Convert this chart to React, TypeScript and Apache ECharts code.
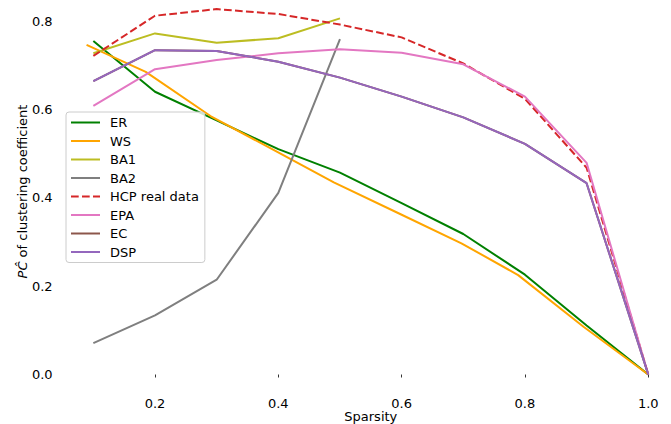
import React, { useEffect, useRef } from "react";
import * as echarts from "echarts";

const seriesNames = ["ER", "WS", "BA1", "BA2", "HCP real data", "EPA", "EC", "DSP"];
const sparsity = [0.1, 0.2, 0.3, 0.4, 0.5, 0.6, 0.7, 0.8, 0.9, 1.0];
const sparsityBA = [0.1, 0.2, 0.3, 0.4, 0.5];
const sparsityWS = [0.089, 0.185, 0.29, 0.39, 0.49, 0.595, 0.697, 0.789, 0.895, 1.0];

const erValues = [0.755, 0.64, 0.575, 0.51, 0.457, 0.388, 0.318, 0.226, 0.111, 0.0];
const wsValues = [0.746, 0.685, 0.585, 0.51, 0.435, 0.365, 0.297, 0.225, 0.108, 0.0];
const ba1Values = [0.727, 0.772, 0.751, 0.761, 0.806];
const ba2Values = [0.071, 0.134, 0.2145, 0.411, 0.759];
const hcpValues = [0.721, 0.812, 0.827, 0.816, 0.792, 0.763, 0.704, 0.624, 0.468, 0.0];
const epaValues = [0.608, 0.691, 0.712, 0.727, 0.736, 0.728, 0.702, 0.629, 0.479, 0.0];
const ecValues = [0.664, 0.734, 0.732, 0.708, 0.672, 0.629, 0.582, 0.522, 0.433, 0.0];
const dspValues = [0.664, 0.734, 0.732, 0.708, 0.672, 0.629, 0.582, 0.522, 0.433, 0.0];

const xTicks = [0.2, 0.4, 0.6, 0.8, 1.0];
const yTicks = [0.0, 0.2, 0.4, 0.6, 0.8];

const colors = ["#008000", "#ffa500", "#bcbd22", "#7f7f7f", "#d62728", "#e377c2", "#8c564b", "#9467bd"];

const FONT = "DejaVu Sans";

function pairs(xs: number[], ys: number[]) {
  return ys.map((y, i) => [xs[i], y]);
}

export default function App() {
  const ref = useRef<HTMLDivElement>(null);
  useEffect(() => {
    if (!ref.current) return;
    const chart = echarts.init(ref.current, undefined, { renderer: "svg" });
    const dataSets = [
      pairs(sparsity, erValues),
      pairs(sparsityWS, wsValues),
      pairs(sparsityBA, ba1Values),
      pairs(sparsityBA, ba2Values),
      pairs(sparsity, hcpValues),
      pairs(sparsity, epaValues),
      pairs(sparsity, ecValues),
      pairs(sparsity, dspValues),
    ];
    chart.setOption({
      animation: false,
      textStyle: { fontFamily: FONT },
      grid: { left: 65.6, right: -5, top: -9, bottom: 32, containLabel: false, outerBoundsMode: "none" },
      legend: {
        orient: "vertical",
        left: 66,
        top: 112,
        padding: [4, 6, 4, 4],
        itemWidth: 29,
        itemHeight: 14,
        itemGap: 5.5,
        backgroundColor: "rgba(255,255,255,0.8)",
        borderColor: "#cccccc",
        borderWidth: 1,
        borderRadius: 3,
        itemStyle: { opacity: 0 },
        textStyle: { fontFamily: FONT, fontSize: 13, color: "#000", padding: [0, 0, 0, 5] },
        data: seriesNames.map((n) => ({ name: n })),
      },
      xAxis: {
        type: "value",
        min: 0.055,
        max: 1.045,
        name: "Sparsity",
        nameLocation: "middle",
        nameGap: 18,
        nameMoveOverlap: false,
        nameTextStyle: { fontFamily: FONT, fontSize: 13, color: "#000" },
        axisLine: { show: false },
        splitLine: { show: false },
        axisTick: { show: true, customValues: xTicks, length: 3, lineStyle: { color: "#000", width: 0.8 } },
        axisLabel: {
          customValues: xTicks,
          formatter: (v: number) => v.toFixed(1),
          fontFamily: FONT,
          fontSize: 13,
          color: "#000",
          margin: 5,
        },
      },
      yAxis: {
        type: "value",
        min: -0.0396,
        max: 0.868,
        name: "{i|PĈ} of clustering coefficient",
        nameLocation: "middle",
        nameGap: 37,
        nameMoveOverlap: false,
        nameTextStyle: {
          fontFamily: FONT,
          fontSize: 13,
          color: "#000",
          rich: { i: { fontStyle: "italic", fontFamily: FONT, fontSize: 13, color: "#000" } },
        },
        axisLine: { show: false },
        splitLine: { show: false },
        axisTick: { show: false },
        axisLabel: {
          customValues: yTicks,
          formatter: (v: number) => v.toFixed(1),
          fontFamily: FONT,
          fontSize: 13,
          color: "#000",
          margin: 13,
        },
      },
      series: seriesNames.map((name, i) => ({
        name,
        type: "line",
        data: dataSets[i],
        symbol: "none",
        showSymbol: false,
        color: colors[i],
        lineStyle: { color: colors[i], width: 2, type: i === 4 ? [7.7, 3.3] : "solid" },
        z: 2 + i,
      })),
    });
    return () => chart.dispose();
  }, []);
  return <div ref={ref} style={{ position: "absolute", left: 0, top: 0, width: 671, height: 424 }} />;
}
